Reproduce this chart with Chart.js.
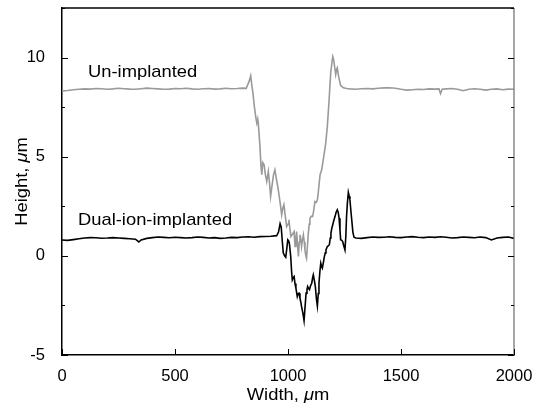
<!DOCTYPE html>
<html>
<head>
<meta charset="utf-8">
<script src="https://cdn.jsdelivr.net/npm/chart.js@4"></script>
<style>
  html, body { margin: 0; padding: 0; background: #fff; }
  #wrap { width: 538px; height: 416px; }
</style>
</head>
<body>
<div id="wrap"><canvas id="profileChart" width="538" height="416"></canvas></div>
<script>
// 表面プロファイル（幅 μm, 高さ μm）
var unImplantedX = [0,25,50,75,100,125,150,175,200,225,250,275,300,325,350,375,400,425,450,475,500,525,550,575,600,625,650,675,700,725,750,775,800,
  815,828,835,840,845,851,858,862,866,869,876,880,884,888,894,900,906,913,918,923,930,936,942,950,957,965,972,977,982,988,994,1000,1004,1008,1013,1020,1027,1031,1035,1038,1042,1046,1050,1053,1057,1060,1064,1068,1072,1075,1079,1082,1086,1090,1094,1097,1103,1109,1114,1119,1125,1130,1134,1138,1142,1149,1156,1162,1167,1174,1181,1189,1194,1198,1202,1205,1211,1215,1218,1223,1227,1233,1245,1260,
  1275,1300,1325,1350,1375,1400,1425,1450,1475,1500,1525,1550,1575,1600,1625,1650,1668,1675,1682,1700,1725,1750,1775,1800,1825,1850,1875,1900,1925,1950,1975,2000];
var unImplantedY = [8.32,8.34,8.38,8.40,8.42,8.41,8.44,8.43,8.40,8.42,8.45,8.43,8.41,8.40,8.43,8.46,8.44,8.42,8.40,8.41,8.44,8.43,8.45,8.42,8.40,8.43,8.44,8.41,8.42,8.45,8.43,8.44,8.46,
  8.45,8.80,9.08,8.60,8.20,7.54,6.95,6.70,6.90,6.62,5.52,4.60,4.09,4.70,4.60,4.10,3.75,4.26,3.70,3.00,3.60,4.10,4.34,3.80,3.33,2.70,2.07,2.40,2.58,2.00,1.48,1.60,1.82,1.40,0.98,1.10,1.23,0.47,0.90,1.23,0.60,-0.03,0.70,1.06,0.80,0.47,0.80,1.06,0.70,0.30,0.00,-0.12,0.50,1.15,1.60,1.90,2.00,1.98,2.30,2.74,2.70,2.83,3.20,3.67,4.09,4.34,4.85,5.30,5.69,6.53,7.71,9.23,9.70,10.05,9.90,9.65,9.14,9.40,9.48,9.10,8.89,8.59,8.48,8.44,
  8.42,8.40,8.43,8.44,8.42,8.45,8.47,8.48,8.45,8.40,8.36,8.38,8.40,8.39,8.42,8.41,8.42,8.18,8.40,8.42,8.44,8.40,8.33,8.40,8.43,8.40,8.36,8.40,8.42,8.38,8.41,8.40];

var dualIonX = [0,25,50,75,100,125,150,175,200,225,250,275,300,325,340,350,375,400,425,450,475,500,525,550,575,600,625,650,675,700,725,750,775,800,825,850,875,900,925,950,
  958,965,970,975,979,985,990,995,999,1003,1006,1012,1016,1019,1023,1027,1031,1035,1041,1045,1049,1053,1057,1060,1066,1071,1076,1080,1084,1087,1091,1095,1100,1105,1109,1112,1116,1121,1126,1130,1134,1137,1141,1145,1149,1152,1157,1161,1165,1168,1174,1178,1183,1187,1190,1194,1198,1203,1208,1213,1218,1222,1226,1230,1233,1238,1242,1247,1252,1256,1259,1263,1267,1271,1274,1278,1282,1287,1292,
  1300,1325,1350,1375,1400,1425,1450,1475,1500,1525,1550,1575,1600,1625,1650,1675,1700,1725,1750,1775,1800,1825,1850,1875,1900,1925,1950,1975,2000];
var dualIonY = [0.80,0.78,0.82,0.86,0.90,0.92,0.91,0.89,0.90,0.92,0.90,0.88,0.86,0.84,0.70,0.80,0.88,0.92,0.95,0.93,0.91,0.94,0.92,0.90,0.92,0.95,0.93,0.90,0.92,0.88,0.90,0.93,0.92,0.95,0.96,0.94,0.97,0.98,0.99,1.02,
  1.20,1.62,1.45,0.70,0.15,0.00,-0.07,0.40,0.81,0.75,0.64,-0.03,-0.80,-1.21,-1.10,-1.04,-1.40,-1.63,-2.05,-1.90,-1.88,-2.14,-2.35,-2.56,-2.90,-3.27,-2.50,-1.88,-1.70,-1.55,-1.65,-1.70,-1.50,-1.38,-1.10,-0.96,-1.20,-1.55,-2.20,-2.53,-1.90,-1.38,-0.80,-0.37,-0.55,-0.62,-0.30,-0.03,0.15,0.30,0.47,0.50,0.56,0.90,1.15,1.40,1.57,1.80,1.98,2.20,2.32,2.20,1.90,1.30,0.81,0.78,0.72,0.50,0.30,1.00,1.98,2.70,3.20,3.00,2.83,2.30,1.82,1.20,0.94,
  0.90,0.88,0.92,0.95,0.93,0.94,0.96,0.93,0.92,0.95,0.97,0.94,0.92,0.95,0.93,0.96,0.94,0.90,0.92,0.95,0.93,0.91,0.95,0.92,0.80,0.90,0.93,0.95,0.88];

// 目盛り
var xTicks = [0, 500, 1000, 1500, 2000];
var yTicks = [-5, 0, 5, 10];
var yMinorTicks = [-2.5, 2.5, 7.5, 12.5];

function toPoints(xs, ys) {
  return xs.map(function (x, i) { return { x: x, y: ys[i] }; });
}

var FONT = '"Liberation Sans", Arial, sans-serif';
var STRETCH = 1.08; // 元図の文字は少し横長

// 横に少し伸ばして文字を描く
function drawWide(c, text, x, y) {
  c.save();
  c.translate(x, y);
  c.scale(STRETCH, 1);
  c.fillText(text, 0, 0);
  c.restore();
}

// 「μ」だけ斜体にして描く
function drawMuText(c, before, after, x, y, size) {
  var normal = size + 'px ' + FONT;
  var italic = 'italic ' + size + 'px ' + FONT;
  c.font = normal; var w1 = c.measureText(before).width;
  var w3 = c.measureText(after).width;
  c.font = italic; var w2 = c.measureText('\u03bc').width;
  var total = w1 + w2 + w3;
  c.save();
  c.translate(x, y);
  c.scale(STRETCH, 1);
  c.textAlign = 'left';
  var sx = -total / 2;
  c.font = normal; c.fillText(before, sx, 0);
  c.font = italic; c.fillText('\u03bc', sx + w1, 0);
  c.font = normal; c.fillText(after, sx + w1 + w2, 0);
  c.restore();
}

var decorations = {
  id: 'decorations',
  afterDraw: function (chart) {
    var c = chart.ctx, a = chart.chartArea;
    var xs = chart.scales.x, ys = chart.scales.y;
    c.save();
    c.lineWidth = 1.3;
    c.strokeStyle = '#000';
    // 上枠
    c.beginPath(); c.moveTo(a.left, a.top); c.lineTo(a.right, a.top); c.stroke();
    // 右枠（灰色）
    c.strokeStyle = '#777';
    c.beginPath(); c.moveTo(a.right, a.top); c.lineTo(a.right, a.bottom); c.stroke();
    // 内向きの目盛り
    c.strokeStyle = '#000';
    c.lineWidth = 1;
    xTicks.forEach(function (v) {
      var px = Math.round(xs.getPixelForValue(v)) + 0.5;
      c.beginPath(); c.moveTo(px, a.bottom); c.lineTo(px, a.bottom - 6); c.stroke();
    });
    yTicks.concat(yMinorTicks).forEach(function (v) {
      var len = yTicks.indexOf(v) >= 0 ? 6 : 3;
      var py = Math.round(ys.getPixelForValue(v)) + 0.5;
      c.beginPath(); c.moveTo(a.left, py); c.lineTo(a.left + len, py); c.stroke();
      c.beginPath(); c.moveTo(a.right, py); c.lineTo(a.right - len, py); c.stroke();
    });
    // 系列ラベル
    c.fillStyle = '#000';
    c.textBaseline = 'alphabetic';
    c.textAlign = 'left';
    c.font = '17px ' + FONT;
    drawWide(c, 'Un-implanted', 88, 77);
    drawWide(c, 'Dual-ion-implanted', 78, 225);
    // 軸タイトル
    drawMuText(c, 'Width, ', 'm', (a.left + a.right) / 2, 400, 17);
    c.translate(27, (a.top + a.bottom) / 2);
    c.rotate(-Math.PI / 2);
    drawMuText(c, 'Height, ', 'm', 0, 0, 17);
    c.restore();
  }
};

var ctx = document.getElementById('profileChart');

var profileChart = new Chart(ctx, {
  type: 'line',
  data: {
    datasets: [
      {
        label: 'Un-implanted',
        data: toPoints(unImplantedX, unImplantedY),
        borderColor: '#9a9a9a',
        borderWidth: 1.6,
        pointRadius: 0,
        tension: 0
      },
      {
        label: 'Dual-ion-implanted',
        data: toPoints(dualIonX, dualIonY),
        borderColor: '#000',
        borderWidth: 1.6,
        pointRadius: 0,
        tension: 0
      }
    ]
  },
  options: {
    responsive: false,
    animation: false,
    events: [],
    layout: { padding: { left: 0, top: 8, right: 24, bottom: 0 } },
    plugins: {
      legend: { display: false },
      tooltip: { enabled: false }
    },
    scales: {
      x: {
        type: 'linear',
        min: 0,
        max: 2000,
        afterBuildTicks: function (scale) {
          scale.ticks = xTicks.map(function (v) { return { value: v }; });
        },
        afterFit: function (scale) {
          scale.height = 61;
          scale.paddingLeft = 0;
          scale.paddingRight = 0;
        },
        grid: { display: false },
        border: { display: true, color: '#000', width: 1.5 },
        ticks: {
          color: '#000',
          font: { family: FONT, size: 16.5 },
          padding: 4,
          maxRotation: 0,
          callback: function (v) { return String(v); }
        }
      },
      y: {
        type: 'linear',
        min: -5,
        max: 12.5,
        afterBuildTicks: function (scale) {
          scale.ticks = yTicks.map(function (v) { return { value: v }; });
        },
        afterFit: function (scale) {
          scale.width = 62;
          scale.paddingTop = 0;
          scale.paddingBottom = 0;
        },
        grid: { display: false },
        border: { display: true, color: '#000', width: 1.5 },
        ticks: {
          color: '#000',
          font: { family: FONT, size: 16.5 },
          padding: 9,
          callback: function (v) { return String(v); }
        }
      }
    }
  },
  plugins: [decorations]
});
</script>
</body>
</html>
